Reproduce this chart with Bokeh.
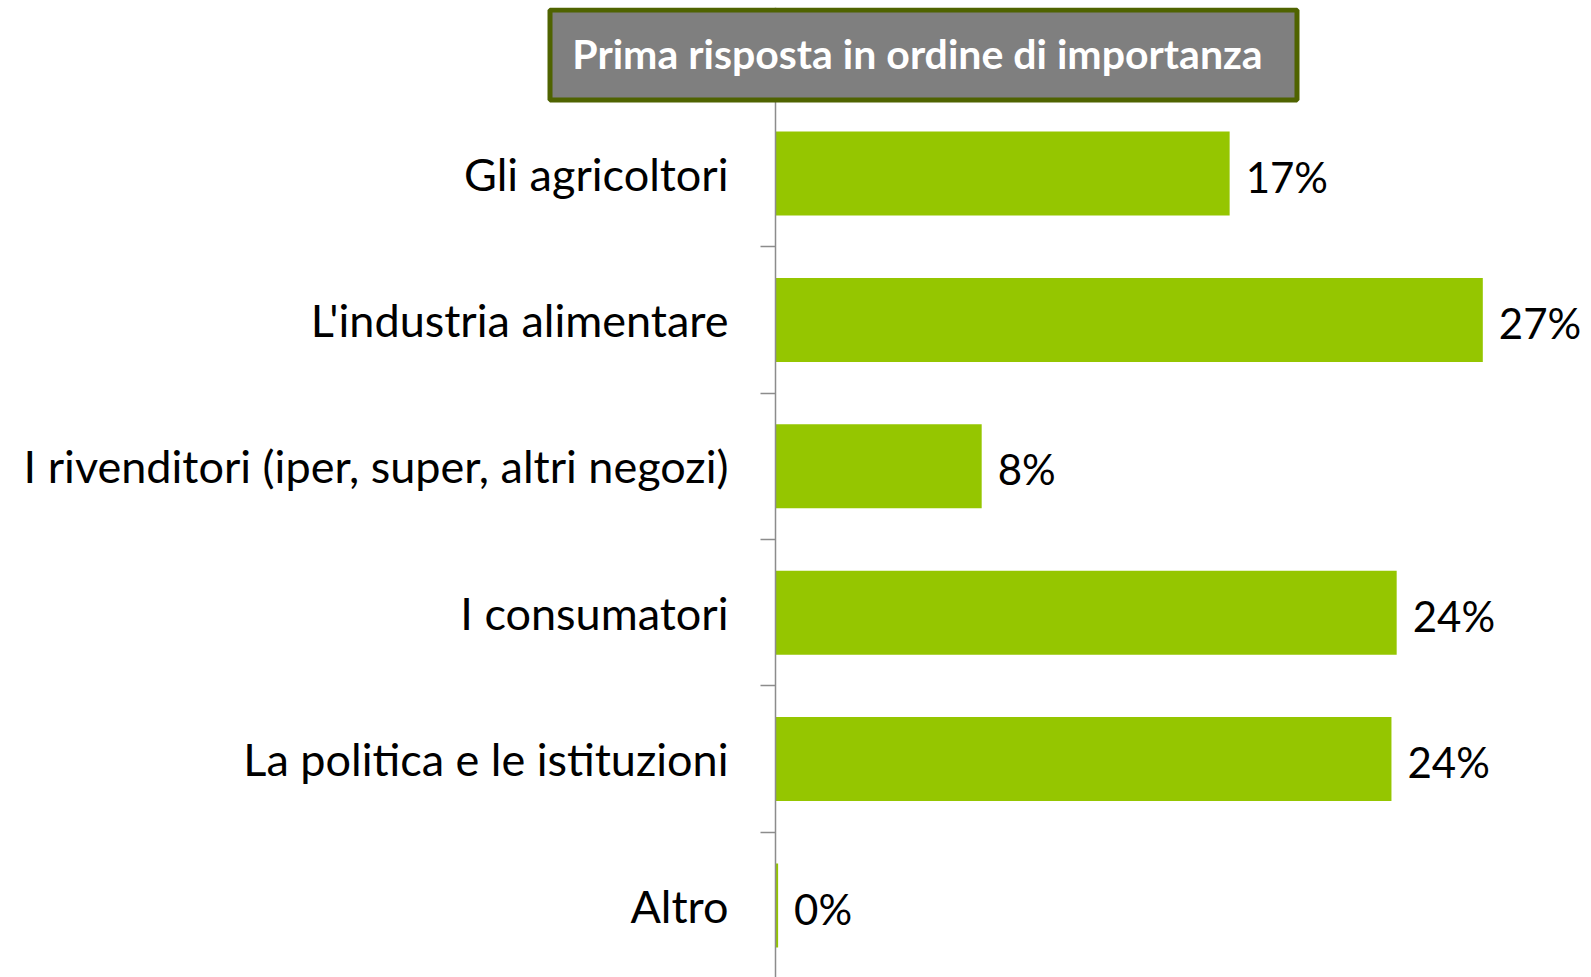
from bokeh.plotting import figure
from bokeh.models import Range1d, FixedTicker, Label, LinearAxis, BoxAnnotation
from bokeh.embed import file_html
from bokeh.resources import INLINE
from bokeh.core.properties import value

# ---- data ----
categories = ["Gli agricoltori", "L'industria alimentare",
              "I rivenditori (iper, super, altri negozi)", "I consumatori",
              "La politica e le istituzioni", "Altro"]
values = [17.4, 27.1, 7.9, 23.8, 23.6, 0.1]
value_labels = ["17%", "27%", "8%", "24%", "24%", "0%"]
title_text = "Prima risposta in ordine di importanza"

# ---- layout constants (pixels) ----
W, H = 1591, 977
FRAME_TOP = 7
AXIS_X = 775.0        # px position of value 0
TOP_BOUNDARY = 99.8   # px position of upper edge of first category band
PX_PER_PCT = 26.1
BAND_PX = 146.4


def dx(px):
    return (px - AXIS_X) / PX_PER_PCT


def dy(py):
    return -0.5 + (py - TOP_BOUNDARY) / BAND_PX


FONT = "Lato"

p = figure(width=W, height=H,
           x_range=Range1d(dx(0), dx(W)), y_range=Range1d(dy(H), dy(FRAME_TOP)),
           output_backend="svg", toolbar_location=None,
           min_border_left=0, min_border_top=FRAME_TOP,
           min_border_right=0, min_border_bottom=0,
           x_axis_location=None, y_axis_location=None)
p.outline_line_color = None
p.grid.visible = False
p.background_fill_color = "white"
p.border_fill_color = "white"

idx = list(range(len(categories)))

yaxis = LinearAxis(
    fixed_location=0,
    ticker=FixedTicker(ticks=idx, minor_ticks=[i + 0.5 for i in idx[:-1]]),
    major_label_overrides={i: c for i, c in zip(idx, categories)},
    axis_line_color="#8c8c8c", axis_line_width=1.5,
    major_tick_line_color=None, major_tick_in=0, major_tick_out=0,
    minor_tick_line_color="#8c8c8c", minor_tick_line_width=1.5,
    minor_tick_in=0, minor_tick_out=15,
    major_label_standoff=32,
    major_label_text_font=FONT, major_label_text_font_size="45px",
    major_label_text_color="#000000",
)
p.add_layout(yaxis, "left")

p.hbar(y=idx, left=0, right=values, height=84 / BAND_PX,
       fill_color="#95c600", line_color=None)

p.text(x=values, y=idx, text=value_labels, x_offset=16, y_offset=3,
       text_align="left", text_baseline="middle",
       text_font=value(FONT), text_font_size="42px", text_color="#000000")

# title box
box = BoxAnnotation(left=dx(549.5), right=dx(1296.5), top=dy(9.5), bottom=dy(99.5),
                    fill_color="#7f7f7f", fill_alpha=1.0,
                    line_color="#4f6300", line_width=5, line_alpha=1.0)
p.add_layout(box)
title = Label(x=dx(917), y=dy(53), text=title_text,
              text_align="center", text_baseline="middle",
              text_font=FONT, text_font_style="bold", text_font_size="41px",
              text_color="white")
p.add_layout(title)

open("out.html", "w").write(file_html(p, INLINE))
